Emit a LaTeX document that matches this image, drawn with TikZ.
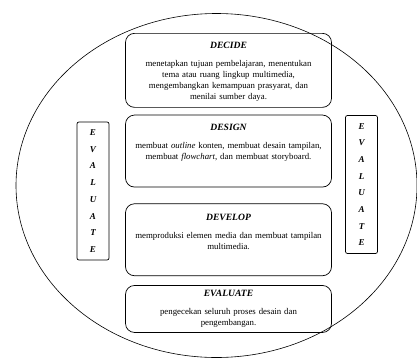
\documentclass[tikz,border=0pt]{standalone}
\usepackage{fontspec}
\setmainfont{Liberation Serif}
\usepackage{xcolor}
\usepackage{tikz}
\usetikzlibrary{positioning}

\tikzset{
  stagebox/.style={draw=black, line width=0.7pt, rounded corners=9pt,
        inner xsep=3pt, inner ysep=5pt, text width=200pt, align=center,
        font=\fontsize{8.8}{11}\selectfont},
  sidebox/.style={draw=black, line width=0.7pt, rounded corners=2pt,
        minimum width=32pt, minimum height=138pt, align=center,
        font=\fontsize{9}{16.7}\selectfont\bfseries\itshape},
}
\newcommand{\stagetitle}[1]{{\fontsize{9.6}{11}\selectfont\bfseries\itshape #1}}

\begin{document}
\begin{tikzpicture}[x=1pt, y=1pt]
  \useasboundingbox (0,0) rectangle (417,-359);
  \draw[line width=0.6pt] (216.5,-185.5) ellipse [x radius=200.5, y radius=172];

  \node[stagebox, anchor=north, text height=10pt, text depth=54pt] (decide) at (228.5,-33) {%
    \stagetitle{DECIDE}\\[7pt]
    menetapkan tujuan pembelajaran, menentukan\\
    tema atau ruang lingkup multimedia,\\
    mengembangkan kemampuan prasyarat, dan\\
    menilai sumber daya.};
  \node[stagebox, below=7pt of decide, text height=10pt, text depth=52pt] (design) {%
    \stagetitle{DESIGN}\\[7pt]
    membuat \textit{outline} konten, membuat desain tampilan,\\
    membuat \textit{flowchart}, dan membuat storyboard.};
  \node[stagebox, below=16pt of design, text height=12pt, text depth=50pt] (develop) {%
    \stagetitle{DEVELOP}\\[7pt]
    memproduksi elemen media dan membuat tampilan\\
    multimedia.};
  \node[stagebox, below=9pt of develop, text height=6pt, text depth=31pt] (evaluate) {%
    \stagetitle{EVALUATE}\\[7pt]
    pengecekan seluruh proses desain dan\\
    pengembangan.};

  % evaluate runs beside every step
  \node[sidebox] (evalleft) at (93,-191) {E\\V\\A\\L\\U\\A\\T\\E};
  \node[sidebox] (evalright) at (361.5,-184.5) {E\\V\\A\\L\\U\\A\\T\\E};
\end{tikzpicture}
\end{document}
